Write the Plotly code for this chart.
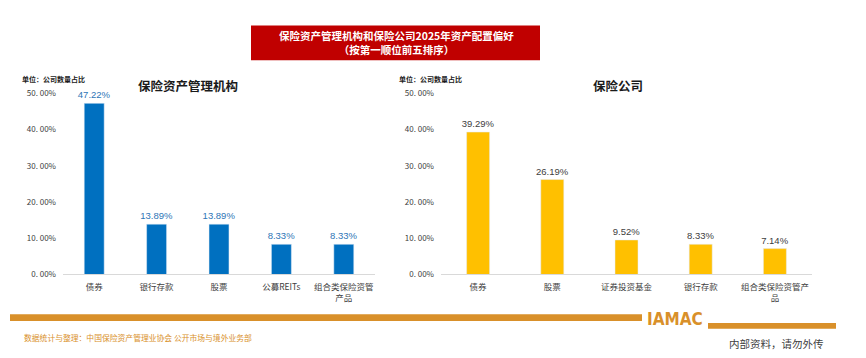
import plotly.graph_objects as go

# ---- data ----
left_title = "保险资产管理机构"
left_categories = ["债券", "银行存款", "股票", "公募REITs", "组合类保险资管<br>产品"]
left_values = [47.22, 13.89, 13.89, 8.33, 8.33]

right_title = "保险公司"
right_categories = ["债券", "股票", "证券投资基金", "银行存款", "组合类保险资管产<br>品"]
right_values = [39.29, 26.19, 9.52, 8.33, 7.14]

y_tick_vals = [0, 10, 20, 30, 40, 50]
y_tick_text = ["0. 00%", "10. 00%", "20. 00%", "30. 00%", "40. 00%", "50. 00%"]

main_title = "保险资产管理机构和保险公司2025年资产配置偏好<br>（按第一顺位前五排序）"
unit_text = "单位：公司数量占比"
source_text = "数据统计与整理：中国保险资产管理业协会 公开市场与境外业务部"
internal_text = "内部资料，请勿外传"

W, H = 866, 358
CJK = "Noto Sans CJK SC"
NUM = "Liberation Sans, Noto Sans CJK SC"
BLUE = "#0070C0"
BLUE_LBL = "#2E75B6"
YELLOW = "#FFC000"
ORANGE = "#D9902A"
GREY = "#404040"


def px(x):
    return x / W


def py(y):
    return (H - y) / H


fig = go.Figure()

fig.add_trace(go.Bar(
    x=left_categories, y=left_values, xaxis="x", yaxis="y",
    marker=dict(color=BLUE), width=0.32,
    text=[f"{v:.2f}%" for v in left_values], textposition="outside",
    textfont=dict(color=BLUE_LBL, size=9.5, family=NUM),
    constraintext="none", cliponaxis=False, showlegend=False,
))
fig.add_trace(go.Bar(
    x=right_categories, y=right_values, xaxis="x2", yaxis="y2",
    marker=dict(color=YELLOW), width=0.31,
    text=[f"{v:.2f}%" for v in right_values], textposition="outside",
    textfont=dict(color=GREY, size=9.5, family=NUM),
    constraintext="none", cliponaxis=False, showlegend=False,
))

y_bottom = py(277)
y_top = py(90)

xaxis_common = dict(
    showline=True, linecolor="#D9D9D9", linewidth=1, ticks="",
    tickfont=dict(size=8.5, color=GREY, family=CJK), showgrid=False,
    zeroline=False, fixedrange=True, tickangle=0, ticklabelstandoff=4,
)
yaxis_common = dict(
    range=[0, 50], tickvals=y_tick_vals, ticktext=y_tick_text,
    tickfont=dict(size=8, color=GREY, family=CJK), showgrid=False,
    zeroline=False, showline=False, ticks="", fixedrange=True,
    domain=[y_bottom, y_top], ticklabelstandoff=6,
)

fig.update_layout(
    width=W, height=H,
    margin=dict(l=0, r=0, t=0, b=0),
    paper_bgcolor="white", plot_bgcolor="white",
    font=dict(family=CJK),
    xaxis=dict(domain=[px(63), px(375)], anchor="y", **xaxis_common),
    yaxis=dict(anchor="x", **yaxis_common),
    xaxis2=dict(domain=[px(441), px(812)], anchor="y2", **xaxis_common),
    yaxis2=dict(anchor="x2", **yaxis_common),
    bargap=0.68,
)

shapes = [
    dict(type="rect", xref="paper", yref="paper", x0=px(251), x1=px(540),
         y0=py(56), y1=py(20), fillcolor="#C00000", line=dict(width=0)),
    dict(type="rect", xref="paper", yref="paper", x0=px(10), x1=px(642),
         y0=py(325), y1=py(318), fillcolor=ORANGE, line=dict(width=0)),
    dict(type="rect", xref="paper", yref="paper", x0=px(708), x1=px(836),
         y0=py(333), y1=py(327), fillcolor=ORANGE, line=dict(width=0)),
]
fig.update_layout(shapes=shapes)

ann = []
ann.append(dict(text="<b>" + main_title + "</b>", x=px(396), y=py(38), xref="paper", yref="paper",
                showarrow=False, font=dict(size=10.5, color="white", family=CJK),
                xanchor="center", yanchor="middle", align="center"))
ann.append(dict(text="<b>" + left_title + "</b>", x=px(188), y=py(82), xref="paper", yref="paper",
                showarrow=False, font=dict(size=12.5, color="#1a1a1a", family=CJK),
                xanchor="center", yanchor="middle"))
ann.append(dict(text="<b>" + right_title + "</b>", x=px(618), y=py(82), xref="paper", yref="paper",
                showarrow=False, font=dict(size=12.5, color="#1a1a1a", family=CJK),
                xanchor="center", yanchor="middle"))
ann.append(dict(text="<b>" + unit_text + "</b>", x=px(20), y=py(75), xref="paper", yref="paper",
                showarrow=False, font=dict(size=7, color="#1a1a1a", family=CJK),
                xanchor="left", yanchor="middle"))
ann.append(dict(text="<b>" + unit_text + "</b>", x=px(397), y=py(75), xref="paper", yref="paper",
                showarrow=False, font=dict(size=7, color="#1a1a1a", family=CJK),
                xanchor="left", yanchor="middle"))
ann.append(dict(text="<b>IAMAC</b>", x=px(675), y=py(323), xref="paper", yref="paper",
                showarrow=False, font=dict(size=17, color=ORANGE, family="DejaVu Sans Condensed"),
                xanchor="center", yanchor="middle"))
ann.append(dict(text=source_text, x=px(22), y=py(342), xref="paper", yref="paper",
                showarrow=False, font=dict(size=7.8, color=ORANGE, family=CJK),
                xanchor="left", yanchor="middle"))
ann.append(dict(text=internal_text, x=px(727), y=py(348), xref="paper", yref="paper",
                showarrow=False, font=dict(size=10.5, color=GREY, family=CJK),
                xanchor="left", yanchor="middle"))
fig.update_layout(annotations=ann)

fig.write_html(
    "out.html",
    config={"displayModeBar": False},
    post_script="document.body.style.margin='0';document.body.style.overflow='hidden';",
)
